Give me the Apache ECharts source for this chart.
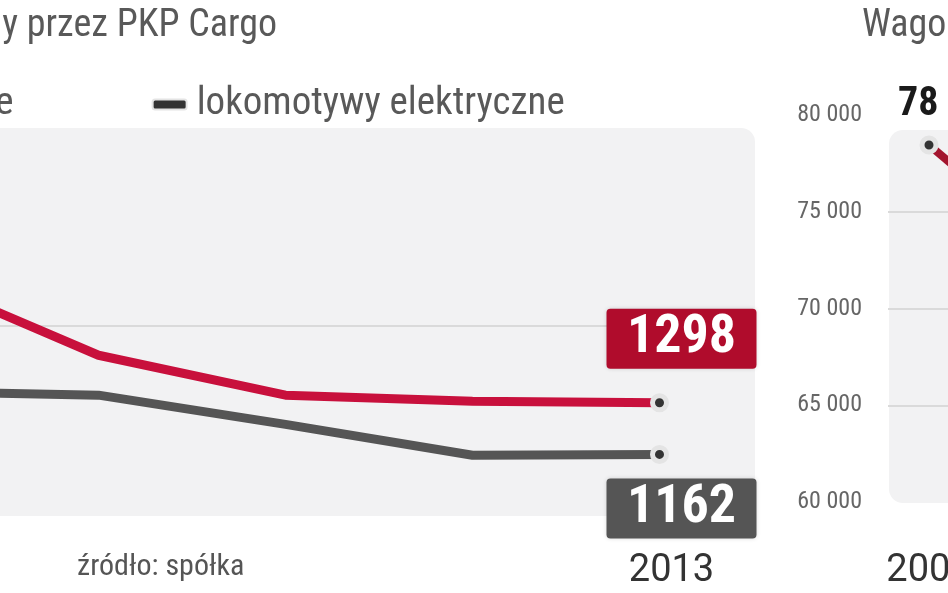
<!DOCTYPE html>
<html>
<head>
<meta charset="utf-8">
<script src="https://cdn.jsdelivr.net/npm/echarts@6/dist/echarts.min.js"></script>
<style>
html,body{margin:0;padding:0;background:#fff;}
#c{width:948px;height:593px;}
</style>
</head>
<body>
<div id="c"></div>
<script>
// ---- data ----
const years = ['2009', '2010', '2011', '2012', '2013'];
const spalinowe = [1634, 1423, 1318, 1302, 1298];
const elektryczne = [1328, 1318, 1241, 1160, 1162];
const wagonyYears = ['2009', '2010'];
const wagony = [78450, 74900];
const leftTicks = [1000, 1500, 2000];
const wagonyTicks = [60000, 65000, 70000, 75000, 80000];

const FONT = "'Roboto Condensed', 'Liberation Sans Narrow', Roboto, sans-serif";
const YEAR_FONT = "Roboto, 'Liberation Sans', sans-serif";
const RED = '#c8103c';
const RED_BOX = '#b00c2c';
const GREY = '#555555';
const WINE = '#a3142e';

const chart = echarts.init(document.getElementById('c'), null, {renderer: 'canvas'});

function fmtThousands(v) {
  return String(v).replace(/\B(?=(\d{3})+(?!\d))/g, ' ');
}

function lastPointData(vals, boxColor, offY) {
  const last = vals.length - 1;
  return vals.map((v, i) => i === last ? {
    value: v,
    symbol: 'circle',
    symbolSize: 14,
    label: {
      show: true,
      position: 'inside',
      offset: [22, offY],
      formatter: '{b|' + v + '}',
      rich: {
        b: {
          color: '#fff', fontFamily: FONT, fontWeight: 'bold', fontSize: 54,
          backgroundColor: boxColor, borderRadius: 4,
          width: 150, height: 60, lineHeight: 60, align: 'center',
          shadowColor: 'rgba(0,0,0,0.15)', shadowBlur: 4
        }
      }
    }
  } : {value: v, symbol: 'none'});
}

const option = {
  backgroundColor: '#ffffff',
  animation: false,
  title: [
    {
      text: 'Tabor trakcyjny używany przez PKP Cargo',
      right: 666, top: 2,
      textStyle: {color: '#595959', fontFamily: FONT, fontWeight: 'normal', fontSize: 38}
    },
    {
      text: 'Wagony używane przez PKP Cargo',
      left: 857, top: 2,
      textStyle: {color: '#595959', fontFamily: FONT, fontWeight: 'normal', fontSize: 38}
    },
    {
      text: 'źródło: spółka',
      left: 72, top: 547,
      textStyle: {color: '#555', fontFamily: FONT, fontWeight: 'normal', fontSize: 30}
    }
  ],
  legend: {
    left: -385, top: 80,
    itemWidth: 34, itemHeight: 10, itemGap: 138,
    icon: 'roundRect',
    textStyle: {color: '#595959', fontFamily: FONT, fontSize: 39, padding: [0, 0, 0, 5]},
    data: ['lokomotywy spalinowe', 'lokomotywy elektryczne']
  },
  graphic: [
    {type: 'rect', z: -10, shape: {x: -30, y: 128, width: 785, height: 388, r: 14}, style: {fill: '#f2f2f3'}},
    {type: 'rect', z: -10, shape: {x: 889, y: 130, width: 120, height: 373, r: 14}, style: {fill: '#f2f2f3'}}
  ],
  grid: [
    {left: -182, width: 935, top: 136, height: 380, outerBoundsMode: 'none', containLabel: false},
    {left: 888, width: 164, top: 115, height: 387, outerBoundsMode: 'none', containLabel: false}
  ],
  xAxis: [
    {
      gridIndex: 0, type: 'category', data: years, boundaryGap: true,
      axisLine: {show: false}, axisTick: {show: false},
      axisLabel: {
        interval: (i) => i === 0 || i === years.length - 1,
        margin: 36,
        formatter: (v) => '{y|' + v + '}',
        rich: {y: {color: '#333', fontFamily: YEAR_FONT, fontSize: 38, padding: [0, 0, 0, 24]}}
      }
    },
    {
      gridIndex: 1, type: 'category', data: wagonyYears, boundaryGap: true,
      axisLine: {show: false}, axisTick: {show: false},
      axisLabel: {
        interval: (i) => i === 0, margin: 50,
        color: '#333', fontFamily: YEAR_FONT, fontSize: 38
      }
    }
  ],
  yAxis: [
    {
      gridIndex: 0, type: 'value',
      min: leftTicks[0], max: leftTicks[leftTicks.length - 1], interval: leftTicks[1] - leftTicks[0],
      axisLine: {show: false}, axisTick: {show: false}, axisLabel: {show: false},
      splitLine: {show: true, showMinLine: false, showMaxLine: false, lineStyle: {color: '#dadada', width: 2}}
    },
    {
      gridIndex: 1, type: 'value',
      min: wagonyTicks[0], max: wagonyTicks[wagonyTicks.length - 1], interval: wagonyTicks[1] - wagonyTicks[0],
      axisLine: {show: false}, axisTick: {show: false},
      axisLabel: {
        margin: 26, color: '#666', fontFamily: FONT, fontSize: 24,
        formatter: (v) => fmtThousands(v)
      },
      splitLine: {show: true, showMinLine: false, showMaxLine: false, lineStyle: {color: '#dadada', width: 2}}
    }
  ],
  series: [
    {
      name: 'lokomotywy spalinowe', type: 'line', xAxisIndex: 0, yAxisIndex: 0,
      color: RED,
      lineStyle: {color: RED, width: 9},
      itemStyle: {color: '#333', borderColor: '#e4e4e4', borderWidth: 5},
      data: lastPointData(spalinowe, RED_BOX, -64),
      z: 3
    },
    {
      name: 'lokomotywy elektryczne', type: 'line', xAxisIndex: 0, yAxisIndex: 0,
      color: GREY,
      lineStyle: {color: GREY, width: 9},
      itemStyle: {color: '#333', borderColor: '#e4e4e4', borderWidth: 5},
      data: lastPointData(elektryczne, GREY, 54),
      z: 2
    },
    {
      name: 'wagony', type: 'line', xAxisIndex: 1, yAxisIndex: 1,
      color: WINE,
      lineStyle: {color: WINE, width: 8},
      itemStyle: {color: '#333', borderColor: '#e4e4e4', borderWidth: 5},
      data: wagony.map((v, i) => i === 0 ? {
        value: v, symbol: 'circle', symbolSize: 14,
        label: {
          show: true, position: 'inside', align: 'left', offset: [-31, -40],
          formatter: fmtThousands(v),
          color: '#1a1a1a', fontFamily: FONT, fontWeight: 'bold', fontSize: 40
        }
      } : {value: v, symbol: 'none'})
    }
  ]
};
chart.setOption(option);
</script>
</body>
</html>
